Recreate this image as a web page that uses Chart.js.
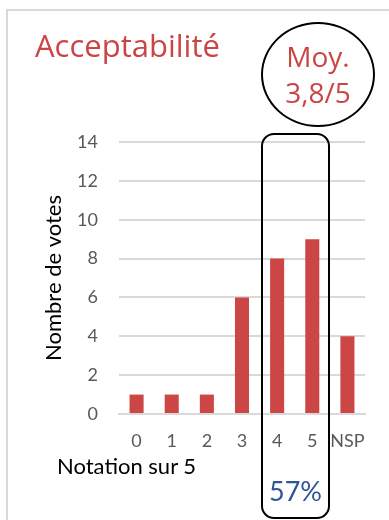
<!DOCTYPE html>
<html><head><meta charset="utf-8">
<script src="https://cdn.jsdelivr.net/npm/chart.js@4/dist/chart.umd.min.js"></script>
<style>
html,body{margin:0;padding:0;background:#fff;}
#wrap{position:relative;width:389px;height:520px;overflow:hidden;}
#card{position:absolute;left:6px;top:9px;width:400px;height:530px;border:2px solid #d9d9d9;box-sizing:border-box;}
canvas{position:absolute;left:0;top:0;}
.t{position:absolute;white-space:nowrap;line-height:1;}
#title{left:35px;top:30px;font-family:"Open Sans";font-size:31px;color:#cc4545;}
#ell{position:absolute;left:261px;top:22px;width:114px;height:105px;border:2px solid #000;border-radius:50%;box-sizing:border-box;}
#moy{left:262px;width:112px;text-align:center;top:38px;font-family:"Open Sans";font-size:28px;color:#cc4545;line-height:36px;}
#rect{position:absolute;left:261px;top:133px;width:69px;height:386px;border:2px solid #000;border-radius:13px;box-sizing:border-box;z-index:3;}
#pct{left:262px;width:67px;text-align:center;top:477px;font-family:Lato;font-size:27px;color:#2f5597;}
#xt{left:57px;top:455px;font-family:Lato;font-size:22px;color:#000;}
</style></head>
<body><div id="wrap">
<div id="card"></div>
<canvas id="c" width="389" height="520"></canvas>
<div class="t" id="title">Acceptabilité</div>
<div id="ell"></div>
<div class="t" id="moy">Moy.<br>3,8/5</div>
<div id="rect"></div>
<div class="t" id="pct">57%</div>
<div class="t" id="xt">Notation sur 5</div>
</div>
<script>
const categories = ['0','1','2','3','4','5','NSP'];
const votes = [1,1,1,6,8,9,4];
const yTicks = [0,2,4,6,8,10,12,14];
const yAxisTitle = 'Nombre de votes';

new Chart(document.getElementById('c'), {
  type: 'bar',
  data: { labels: categories, datasets: [{ data: votes, backgroundColor: '#cc4646', barPercentage: 0.4, categoryPercentage: 1 }] },
  options: {
    responsive: false, animation: false,
    layout: { padding: { top: 142, right: 24, bottom: 0, left: 0 } },
    plugins: { legend: { display: false }, tooltip: { enabled: false } },
    scales: {
      x: {
        grid: { display: false, drawTicks: false },
        border: { color: '#d9d9d9', width: 2 },
        ticks: { color: '#595959', font: { family: 'Lato', size: 18 }, padding: 16, maxRotation: 0, autoSkip: false },
        afterFit: s => { s.height = 106; }
      },
      y: {
        min: 0, max: 14,
        afterBuildTicks: s => { s.ticks = yTicks.map(v => ({ value: v })); },
        grid: { color: '#d9d9d9', lineWidth: 2, drawTicks: false },
        border: { display: false },
        ticks: { color: '#595959', font: { family: 'Lato', size: 18 }, padding: 21 },
        title: { display: true, text: yAxisTitle, color: '#000', font: { family: 'Lato', size: 22 }, padding: { top: 41, bottom: 0 } },
        afterFit: s => { s.width = 119; }
      }
    }
  }
});
</script>
</body></html>
